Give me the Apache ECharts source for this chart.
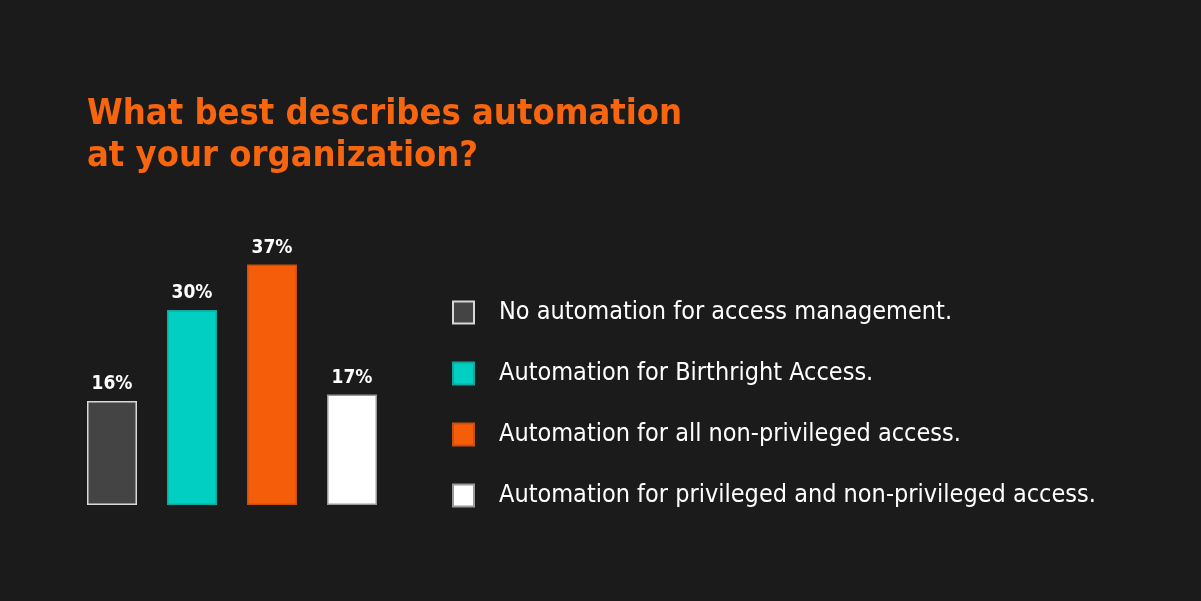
<!DOCTYPE html>
<html>
<head>
<meta charset="utf-8">
<script src="https://cdn.jsdelivr.net/npm/echarts@6/dist/echarts.min.js"></script>
<style>
  html, body { margin: 0; padding: 0; background: #1b1b1b; }
  #main { width: 1201px; height: 601px; }
</style>
</head>
<body>
<div id="main"></div>
<script>
var categories = ['No automation for access management.',
  'Automation for Birthright Access.',
  'Automation for all non-privileged access.',
  'Automation for privileged and non-privileged access.'];
var values = [16, 30, 37, 17];
var fills = ['#444444', '#00cfc1', '#f55d0b', '#ffffff'];
var borders = ['#d8d8d8', '#0fa89d', '#c9500e', '#9a9a9a'];

var font = '"DejaVu Sans Condensed", "Liberation Sans Narrow", sans-serif';

var chart = echarts.init(document.getElementById('main'));

// one series per category, stacked so each bar sits centred on its own slot
var series = categories.map(function (name, i) {
  var data = values.map(function (v, j) {
    return j === i ? v : '-';
  });
  return {
    name: name,
    type: 'bar',
    stack: 'all',
    barWidth: 50,
    data: data,
    itemStyle: { color: fills[i], borderColor: borders[i], borderWidth: 1.5 },
    label: {
      show: true,
      position: 'top',
      distance: 7,
      formatter: '{c}%',
      color: '#ffffff',
      fontFamily: font,
      fontWeight: 'bold',
      fontSize: 19
    }
  };
});

var option = {
  backgroundColor: '#1b1b1b',
  animation: false,
  title: {
    text: 'What best describes automation\nat your organization?',
    left: 82,
    top: 89,
    textStyle: {
      color: '#f7650f',
      fontFamily: font,
      fontWeight: 'bold',
      fontSize: 36,
      lineHeight: 42
    }
  },
  legend: {
    orient: 'vertical',
    left: 447,
    top: 295,
    icon: 'rect',
    itemWidth: 21,
    itemHeight: 22,
    itemGap: 36,
    selectedMode: false,
    data: categories,
    textStyle: {
      color: '#ffffff',
      fontFamily: font,
      fontSize: 25,
      lineHeight: 22,
      padding: [0, 0, 0, 20]
    }
  },
  grid: {
    left: 72,
    width: 320,
    top: 245,
    bottom: 96,
    containLabel: false
  },
  xAxis: {
    type: 'category',
    data: categories,
    axisLine: { show: false },
    axisTick: { show: false },
    axisLabel: { show: false }
  },
  yAxis: {
    type: 'value',
    min: 0,
    max: 40,
    show: false,
    splitLine: { show: false }
  },
  series: series
};

chart.setOption(option);
</script>
</body>
</html>
